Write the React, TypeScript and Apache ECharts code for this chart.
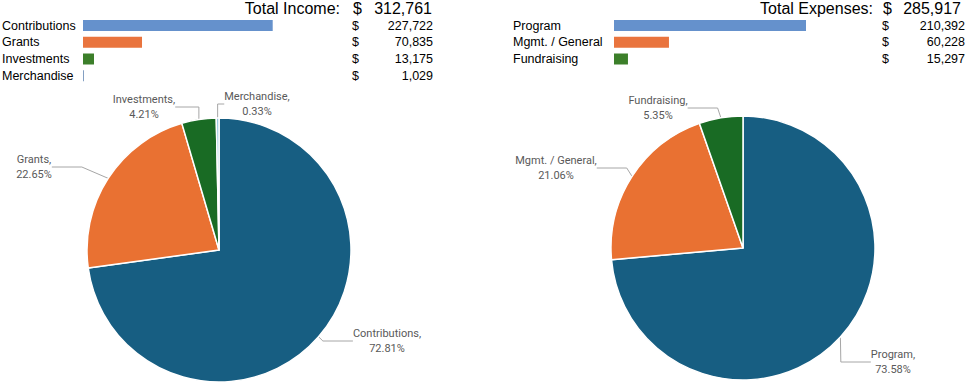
import React, { useEffect, useRef } from 'react';
import * as echarts from 'echarts';

const incomeCategories = ['Contributions', 'Grants', 'Investments', 'Merchandise'];
const incomeValues = [227722, 70835, 13175, 1029];
const incomePctLabels = ['72.81%', '22.65%', '4.21%', '0.33%'];
const incomeTotal = 312761;

const expenseCategories = ['Program', 'Mgmt. / General', 'Fundraising'];
const expenseValues = [210392, 60228, 15297];
const expensePctLabels = ['73.58%', '21.06%', '5.35%'];
const expenseTotal = 285917;

const barColors = ['#6591CC', '#E9743E', '#3C7F2A', '#6F8FB8'];
const pieColors = ['#175E82', '#E97132', '#196B24', '#8FC3DE'];

// label centres (layout, not data)
const incomeLabelPos = [[387, 341], [34, 167], [144, 107], [257, 104]];
const expenseLabelPos = [[893, 362], [556, 168], [658, 108]];

const FONT = '"Liberation Sans", Arial, sans-serif';
const fmt = (v: number) => v.toLocaleString('en-US');

export default function App() {
  const ref = useRef<HTMLDivElement>(null);
  useEffect(() => {
    document.body.style.margin = '0';
    const chart = echarts.init(ref.current!, null, { renderer: 'svg' });
    const rowStep = 16.75;
    const rowTop = 25.5;
    const graphics: any[] = [];
    const txt = (text: string, x: number, y: number, size: number, align: string) => ({
      type: 'text',
      x,
      y,
      style: { text, fontSize: size, fontFamily: FONT, fill: '#000', align, verticalAlign: 'middle' },
    });
    // income table
    graphics.push(txt('Total Income:', 340, 8, 16, 'right'));
    graphics.push(txt('$', 353, 8, 16, 'left'));
    graphics.push(txt(fmt(incomeTotal), 432, 8, 16, 'right'));
    incomeCategories.forEach((c, i) => {
      const y = rowTop + i * rowStep;
      graphics.push(txt(c, 2, y, 12.5, 'left'));
      graphics.push(txt('$', 352, y, 12.5, 'left'));
      graphics.push(txt(fmt(incomeValues[i]), 433, y, 12.5, 'right'));
    });
    // expense table
    graphics.push(txt('Total Expenses:', 873, 8, 16, 'right'));
    graphics.push(txt('$', 883, 8, 16, 'left'));
    graphics.push(txt(fmt(expenseTotal), 961, 8, 16, 'right'));
    expenseCategories.forEach((c, i) => {
      const y = rowTop + i * rowStep;
      graphics.push(txt(c, 513, y, 12.5, 'left'));
      graphics.push(txt('$', 882, y, 12.5, 'left'));
      graphics.push(txt(fmt(expenseValues[i]), 965, y, 12.5, 'right'));
    });

    const pieLabel = (pcts: string[]) => ({
      show: true,
      formatter: (p: any) => `${p.name},\n${pcts[p.dataIndex]}`,
      fontSize: 11,
      fontFamily: 'Roboto, sans-serif',
      color: '#595959',
      lineHeight: 15,
      align: 'center',
    });

    chart.setOption({
      animation: false,
      graphic: graphics,
      grid: [
        { left: 83, top: rowTop - rowStep / 2, width: 189.7, height: rowStep * 4 },
        { left: 614, top: rowTop - rowStep / 2, width: 192, height: rowStep * 3 },
      ],
      xAxis: [
        { type: 'value', gridIndex: 0, min: 0, max: 'dataMax', show: false },
        { type: 'value', gridIndex: 1, min: 0, max: 'dataMax', show: false },
      ],
      yAxis: [
        { type: 'category', gridIndex: 0, data: incomeCategories, inverse: true, show: false },
        { type: 'category', gridIndex: 1, data: expenseCategories, inverse: true, show: false },
      ],
      series: [
        {
          type: 'bar',
          xAxisIndex: 0,
          yAxisIndex: 0,
          barWidth: 11,
          data: incomeValues.map((v, i) => ({ value: v, itemStyle: { color: barColors[i] } })),
        },
        {
          type: 'bar',
          xAxisIndex: 1,
          yAxisIndex: 1,
          barWidth: 11,
          data: expenseValues.map((v, i) => ({ value: v, itemStyle: { color: barColors[i] } })),
        },
        {
          type: 'pie',
          center: [219, 250],
          radius: 132,
          startAngle: 90,
          clockwise: true,
          itemStyle: { borderColor: '#fff', borderWidth: 1.5 },
          data: incomeCategories.map((c, i) => ({ name: c, value: incomeValues[i], itemStyle: { color: pieColors[i] } })),
          label: pieLabel(incomePctLabels),
          labelLine: { show: true, lineStyle: { color: '#A6A6A6', width: 1 } },
          labelLayout: (p: any) => ({
            x: incomeLabelPos[p.dataIndex][0],
            y: incomeLabelPos[p.dataIndex][1],
            align: 'center',
            verticalAlign: 'middle',
          }),
        },
        {
          type: 'pie',
          center: [743, 248],
          radius: 132,
          startAngle: 90,
          clockwise: true,
          itemStyle: { borderColor: '#fff', borderWidth: 1.5 },
          data: expenseCategories.map((c, i) => ({ name: c, value: expenseValues[i], itemStyle: { color: pieColors[i] } })),
          label: pieLabel(expensePctLabels),
          labelLine: { show: true, lineStyle: { color: '#A6A6A6', width: 1 } },
          labelLayout: (p: any) => ({
            x: expenseLabelPos[p.dataIndex][0],
            y: expenseLabelPos[p.dataIndex][1],
            align: 'center',
            verticalAlign: 'middle',
          }),
        },
      ],
    });
    return () => chart.dispose();
  }, []);
  return <div ref={ref} style={{ width: 966, height: 384 }} />;
}
